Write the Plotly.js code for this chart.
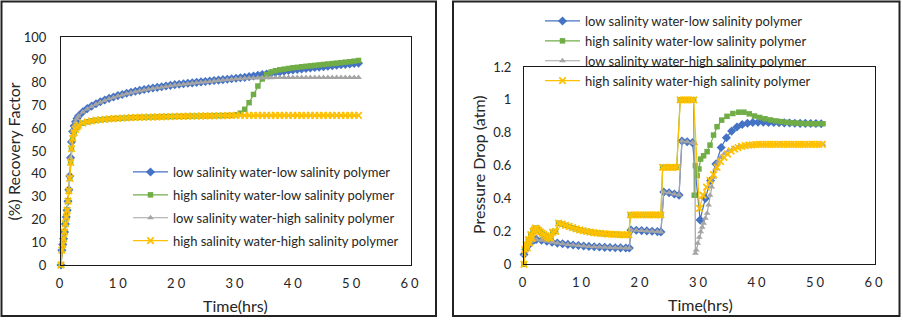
<!DOCTYPE html>
<html>
<head>
<meta charset="utf-8">
<script src="https://cdn.plot.ly/plotly-3.0.1.min.js"></script>
<style>
  html, body { margin: 0; padding: 0; background: #fff; }
  #chart { width: 903px; height: 320px; }
  .xtick text, .x2tick text { letter-spacing: 3px; }
</style>
</head>
<body>
<div id="chart"></div>
<script>
// ---------- Series names ----------
const seriesNames = [
  "low salinity water-low salinity polymer",
  "high salinity water-low salinity polymer",
  "low salinity water-high salinity polymer",
  "high salinity water-high salinity polymer"
];

// ---------- Recovery factor (%) vs time (hrs) ----------
const timeRF = [0, 0.15, 0.3, 0.45, 0.6, 0.75, 0.9, 1.05, 1.2, 1.35, 1.5, 1.65, 1.8, 2.0, 2.25, 2.5, 2.75, 3.0,
  3.75, 4.5, 5.25, 6, 6.75, 7.5, 8.25, 9, 9.75, 10.5, 11.25, 12, 12.75, 13.5, 14.25, 15, 15.75, 16.5, 17.25, 18,
  18.75, 19.5, 20.25, 21, 21.75, 22.5, 23.25, 24, 24.75, 25.5, 26.25, 27, 27.75, 28.5, 29.25, 30, 30.75, 31.5,
  32.25, 33, 33.75, 34.5, 35.25, 36, 36.75, 37.5, 38.25, 39, 39.75, 40.5, 41.25, 42, 42.75, 43.5, 44.25, 45,
  45.75, 46.5, 47.25, 48, 48.75, 49.5, 50.25, 51];

const rfLowLow = [0, 6.5, 9, 11.5, 14.5, 18, 21, 24, 28, 33, 39, 47, 54, 58.5, 61, 62.8, 64.2, 65.3,
  67.2, 68.6, 69.7, 70.7, 71.6, 72.4, 73.1, 73.7, 74.3, 74.8, 75.3, 75.8, 76.2, 76.6, 77, 77.3, 77.6, 77.9, 78.2, 78.5,
  78.8, 79.1, 79.3, 79.5, 79.7, 79.9, 80.1, 80.3, 80.5, 80.7, 80.9, 81.1, 81.3, 81.5, 81.7, 81.9, 82.1, 82.3,
  82.6, 82.9, 83.2, 83.5, 83.8, 84.1, 84.4, 84.7, 85, 85.3, 85.5, 85.8, 86, 86.2, 86.4, 86.6, 86.8, 87,
  87.2, 87.4, 87.6, 87.8, 88, 88.2, 88.4, 88.5];

const rfHighLow = [0, 6.5, 9, 11.5, 14.5, 18, 21, 24, 28, 32.5, 38, 45, 51, 55.5, 58, 59.5, 60.5, 61.2,
  62.2, 62.8, 63.2, 63.5, 63.7, 63.9, 64.1, 64.2, 64.3, 64.4, 64.5, 64.6, 64.7, 64.75, 64.8, 64.85, 64.9, 64.95, 65, 65.05,
  65.1, 65.15, 65.2, 65.2, 65.25, 65.3, 65.3, 65.35, 65.4, 65.4, 65.45, 65.5, 65.5, 65.55, 65.6, 65.9, 66.6, 68.3,
  71.2, 74.8, 78.5, 81.6, 83.5, 84.6, 85.2, 85.6, 85.9, 86.2, 86.5, 86.7, 86.95, 87.15, 87.35, 87.55, 87.75, 87.95,
  88.15, 88.35, 88.55, 88.75, 88.95, 89.15, 89.4, 89.7];

const rfLowHigh = [0, 6.5, 9, 11.5, 14.5, 18, 21, 24, 28, 33, 39, 47, 54, 58.5, 61, 62.8, 64.2, 65.3,
  67.1, 68.4, 69.5, 70.5, 71.4, 72.2, 72.9, 73.5, 74.1, 74.6, 75.1, 75.6, 76, 76.4, 76.8, 77.1, 77.4, 77.7, 78, 78.3,
  78.6, 78.9, 79.1, 79.3, 79.5, 79.7, 79.9, 80.1, 80.3, 80.5, 80.7, 80.9, 81.1, 81.3, 81.5, 81.7, 81.8, 81.9,
  82, 82, 82.1, 82.1, 82.1, 82.1, 82.2, 82.2, 82.2, 82.2, 82.2, 82.2, 82.2, 82.2, 82.2, 82.2, 82.2, 82.2,
  82.2, 82.2, 82.2, 82.2, 82.2, 82.2, 82.2, 82.2];

const rfHighHigh = [0, 6.5, 9, 11.5, 14.5, 18, 21, 24, 28, 32.5, 38, 45, 51, 55.5, 58, 59.5, 60.5, 61.2,
  62.2, 62.8, 63.2, 63.5, 63.7, 63.9, 64.1, 64.2, 64.3, 64.4, 64.5, 64.6, 64.7, 64.75, 64.8, 64.85, 64.9, 64.95, 65, 65.05,
  65.1, 65.15, 65.2, 65.2, 65.25, 65.3, 65.3, 65.35, 65.4, 65.4, 65.45, 65.5, 65.5, 65.55, 65.6, 65.6, 65.6, 65.6,
  65.6, 65.6, 65.6, 65.6, 65.6, 65.6, 65.6, 65.6, 65.6, 65.6, 65.6, 65.6, 65.6, 65.6, 65.6, 65.6, 65.6, 65.6,
  65.6, 65.6, 65.6, 65.6, 65.6, 65.6, 65.6, 65.6];

// ---------- Pressure drop (atm) vs time (hrs) ----------
// water flooding stages (shared by runs with the same injected water)
const lowWaterTime = [0, 0.3, 0.6, 0.9, 1.2, 1.5, 1.8, 2.1, 3.0, 3.9, 4.8, 5.7, 6.6, 7.5, 8.4, 9.3, 10.2, 11.1, 12.0,
  12.9, 13.8, 14.7, 15.6, 16.5, 17.4, 18.0, 18.3, 19.2, 20.1, 21.0, 21.9, 22.8, 23.4, 23.9, 24.8, 25.7, 26.5, 27.0,
  27.9, 28.8];
const lowWaterDP = [0.06, 0.09, 0.11, 0.125, 0.137, 0.145, 0.15, 0.151, 0.146, 0.14, 0.134, 0.129, 0.125, 0.121, 0.117,
  0.114, 0.111, 0.109, 0.107, 0.105, 0.103, 0.102, 0.101, 0.1, 0.099, 0.099, 0.208, 0.207, 0.205, 0.203, 0.201, 0.199,
  0.197, 0.44, 0.435, 0.428, 0.421, 0.75, 0.745, 0.74];

const highWaterTime = [0, 0.15, 0.35, 0.55, 0.75, 0.95, 1.15, 1.35, 1.55, 1.75, 1.95, 2.2, 2.5, 2.8, 3.1, 3.4, 3.7,
  4.0, 4.3, 4.6, 4.9, 5.4, 5.9, 6.5, 7.1, 7.7, 8.3, 8.9, 9.5, 10.1, 10.7, 11.3, 11.9, 12.5, 13.1, 13.7, 14.3, 14.9,
  15.5, 16.1, 16.7, 17.3, 17.9, 18.2, 18.8, 19.4, 20.0, 20.6, 21.2, 21.8, 22.4, 23.0, 23.4, 23.7, 24.3, 24.9, 25.5,
  26.1, 26.7, 27.3, 27.9, 28.5, 29.0];
const highWaterDP = [0, 0.09, 0.12, 0.10, 0.15, 0.13, 0.18, 0.16, 0.20, 0.21, 0.22, 0.216, 0.207, 0.197, 0.188, 0.18,
  0.173, 0.167, 0.162, 0.158, 0.195, 0.2, 0.25, 0.244, 0.237, 0.23, 0.223, 0.216, 0.21, 0.205, 0.2, 0.196, 0.193,
  0.19, 0.188, 0.186, 0.184, 0.183, 0.182, 0.181, 0.18, 0.179, 0.179, 0.30, 0.30, 0.30, 0.30, 0.30, 0.30, 0.30, 0.30,
  0.30, 0.30, 0.59, 0.59, 0.59, 0.59, 0.59, 1.0, 1.0, 1.0, 1.0, 1.0];

// polymer flooding stages
const polyLowLowTime = [30.1, 31.0, 31.9, 32.8, 33.7, 34.6, 35.5, 36.4, 37.3, 38.2, 39.1, 40.0, 40.9, 41.8, 42.7,
  43.6, 44.5, 45.4, 46.3, 47.2, 48.1, 49.0, 49.9, 50.8];
const polyLowLowDP = [0.27, 0.40, 0.51, 0.61, 0.71, 0.77, 0.81, 0.835, 0.85, 0.858, 0.862, 0.864, 0.864, 0.863, 0.862,
  0.861, 0.86, 0.859, 0.858, 0.857, 0.857, 0.856, 0.856, 0.855];

const polyHighLowTime = [29.1, 29.3, 29.6, 29.9, 30.2, 30.7, 31.3, 31.8, 32.4, 33.0, 33.8, 34.7, 35.7, 36.7, 37.6,
  38.5, 39.4, 40.3, 41.2, 42.1, 43.0, 43.9, 44.8, 45.7, 46.6, 47.5, 48.4, 49.3, 50.2, 51.1];
const polyHighLowDP = [0.42, 0.60, 0.54, 0.58, 0.64, 0.66, 0.685, 0.725, 0.786, 0.837, 0.877, 0.9, 0.917, 0.925, 0.925,
  0.915, 0.902, 0.893, 0.885, 0.878, 0.872, 0.868, 0.864, 0.861, 0.859, 0.857, 0.856, 0.855, 0.855, 0.855];

const polyLowHighTime = [29.2, 29.3, 29.45, 29.7, 29.95, 30.2, 30.45, 30.7, 31.0, 31.3, 31.55, 31.8, 32.1, 32.4, 32.7,
  33.1, 33.6, 34.3, 35.0, 35.8, 36.7, 37.6, 38.5, 39.4, 40.3, 41.2, 42.1, 43.0, 43.9, 44.8, 45.7, 46.6, 47.5, 48.4,
  49.3, 50.2, 51.1];
const polyLowHighDP = [0.735, 0.067, 0.087, 0.128, 0.165, 0.198, 0.225, 0.25, 0.28, 0.31, 0.36, 0.42, 0.47, 0.53, 0.58,
  0.62, 0.65, 0.675, 0.693, 0.706, 0.715, 0.72, 0.724, 0.726, 0.727, 0.728, 0.728, 0.728, 0.728, 0.728, 0.728, 0.728,
  0.728, 0.728, 0.728, 0.728, 0.728];

const polyHighHighTime = [30.0, 30.6, 31.2, 31.8, 32.4, 33.0, 33.6, 34.2, 34.8, 35.4, 36.0, 36.6, 37.2, 37.8, 38.4,
  39.0, 39.6, 40.2, 40.8, 41.4, 42.0, 42.6, 43.2, 43.8, 44.4, 45.0, 45.6, 46.2, 46.8, 47.4, 48.0, 48.6, 49.2, 49.8,
  50.4, 51.0];
const polyHighHighDP = [0.34, 0.42, 0.47, 0.51, 0.545, 0.59, 0.625, 0.65, 0.67, 0.688, 0.70, 0.71, 0.717, 0.722, 0.725,
  0.727, 0.728, 0.729, 0.73, 0.73, 0.73, 0.73, 0.73, 0.73, 0.73, 0.73, 0.73, 0.73, 0.73, 0.73, 0.73, 0.73, 0.73, 0.73,
  0.73, 0.73];

// full runs = water flood followed by polymer flood
const dpRuns = [
  { t: lowWaterTime.concat(polyLowLowTime),   p: lowWaterDP.concat(polyLowLowDP) },
  { t: highWaterTime.concat(polyHighLowTime), p: highWaterDP.concat(polyHighLowDP) },
  { t: lowWaterTime.concat(polyLowHighTime),  p: lowWaterDP.concat(polyLowHighDP) },
  { t: highWaterTime.concat(polyHighHighTime), p: highWaterDP.concat(polyHighHighDP) }
];
const rfRuns = [rfLowLow, rfHighLow, rfLowHigh, rfHighHigh];

// ---------- Styles ----------
const FONT = 'Lato, "Open Sans", sans-serif';
const TXT = '#262626';
const styles = [
  { color: '#4472C4', symbol: 'diamond', size: 7 },
  { color: '#70AD47', symbol: 'square', size: 5.5 },
  { color: '#A5A5A5', symbol: 'triangle-up', size: 6 },
  { color: '#FFC000', symbol: 'x-thin', size: 6.5 }
];

function makeTrace(i, x, y, xa, ya, legend) {
  const s = styles[i];
  const marker = { symbol: s.symbol, size: s.size, color: s.color };
  if (s.symbol === 'x-thin') marker.line = { color: s.color, width: 1.8 };
  return {
    type: 'scatter', mode: 'lines+markers', name: seriesNames[i],
    x: x, y: y, xaxis: xa, yaxis: ya, legend: legend, legendgroup: legend + i,
    line: { color: s.color, width: 1.2 }, marker: marker, cliponaxis: false
  };
}

const traces = [];
for (let i = 0; i < 4; i++) traces.push(makeTrace(i, timeRF, rfRuns[i], 'x', 'y', 'legend'));
for (let i = 0; i < 4; i++) traces.push(makeTrace(i, dpRuns[i].t, dpRuns[i].p, 'x2', 'y2', 'legend2'));

const W = 903, H = 320;
const fx = v => v / W;
const fy = v => 1 - v / H;

const axisCommon = {
  showline: true, mirror: true, linecolor: '#1a1a1a', linewidth: 1,
  showgrid: false, zeroline: false, ticks: '',
  tickfont: { family: FONT, size: 13, color: TXT }
};

const layout = {
  width: W, height: H, autosize: false,
  margin: { l: 0, r: 0, t: 0, b: 0 },
  paper_bgcolor: '#fff', plot_bgcolor: '#fff',
  font: { family: FONT, color: TXT },
  xaxis: Object.assign({}, axisCommon, { domain: [fx(61), fx(411)], range: [0, 60], dtick: 10, anchor: 'y', ticklabelstandoff: 6 }),
  yaxis: Object.assign({}, axisCommon, { domain: [fy(265), fy(37)], range: [0, 100], dtick: 10, anchor: 'x', ticklabelstandoff: 11 }),
  xaxis2: Object.assign({}, axisCommon, { domain: [fx(524), fx(875)], range: [0, 60], dtick: 10, anchor: 'y2', ticklabelstandoff: 6 }),
  yaxis2: Object.assign({}, axisCommon, { domain: [fy(264.3), fy(67)], range: [0, 1.2], dtick: 0.2, anchor: 'x2', ticklabelstandoff: 9 }),
  legend: {
    x: fx(128), y: fy(157), xanchor: 'left', yanchor: 'top',
    bgcolor: 'rgba(0,0,0,0)', borderwidth: 0, itemwidth: 35,
    traceorder: 'grouped', tracegroupgap: 3,
    font: { family: FONT, size: 13, color: TXT }
  },
  legend2: {
    x: fx(540), y: fy(6), xanchor: 'left', yanchor: 'top',
    bgcolor: 'rgba(0,0,0,0)', borderwidth: 0, itemwidth: 35,
    traceorder: 'grouped', tracegroupgap: 0,
    font: { family: FONT, size: 13, color: TXT }
  },
  shapes: [
    { type: 'rect', xref: 'paper', yref: 'paper', x0: fx(1.5), x1: fx(436), y0: fy(316), y1: fy(1.5),
      line: { color: '#222', width: 2 }, layer: 'above' },
    { type: 'rect', xref: 'paper', yref: 'paper', x0: fx(453), x1: fx(899.5), y0: fy(316), y1: fy(1.5),
      line: { color: '#222', width: 2 }, layer: 'above' }
  ],
  annotations: [
    { text: '(%) Recovery Factor', xref: 'paper', yref: 'paper', x: fx(13), y: fy(151.5), textangle: -90,
      xanchor: 'center', yanchor: 'middle', showarrow: false, font: { family: FONT, size: 16, color: TXT } },
    { text: 'Time(hrs)', xref: 'paper', yref: 'paper', x: fx(236), y: fy(305),
      xanchor: 'center', yanchor: 'middle', showarrow: false, font: { family: FONT, size: 16, color: TXT } },
    { text: 'Pressure Drop (atm)', xref: 'paper', yref: 'paper', x: fx(478), y: fy(165), textangle: -90,
      xanchor: 'center', yanchor: 'middle', showarrow: false, font: { family: FONT, size: 16, color: TXT } },
    { text: 'Time(hrs)', xref: 'paper', yref: 'paper', x: fx(700), y: fy(304),
      xanchor: 'center', yanchor: 'middle', showarrow: false, font: { family: FONT, size: 16, color: TXT } }
  ]
};

Plotly.newPlot('chart', traces, layout, { staticPlot: true, displayModeBar: false });
</script>
</body>
</html>
